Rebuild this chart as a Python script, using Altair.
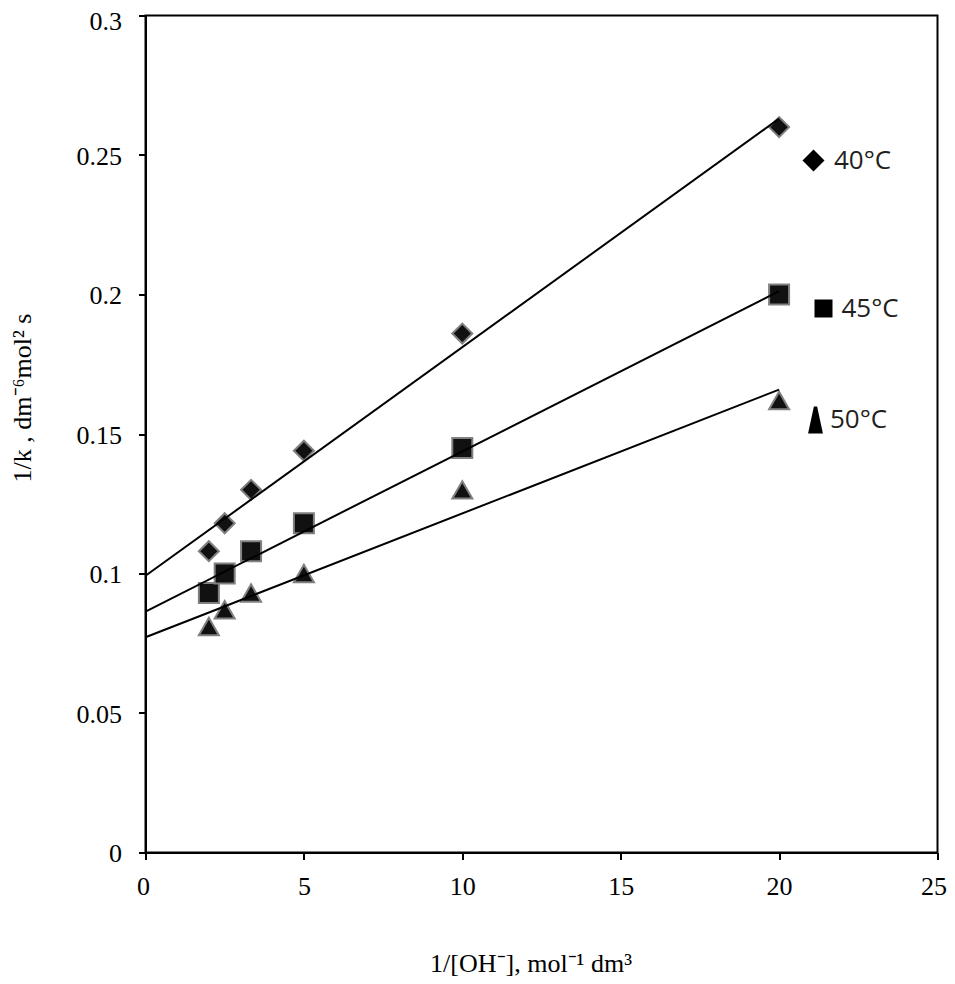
import altair as alt
import pandas as pd

x_vals = [2, 2.5, 3.333, 5, 10, 20]
y40 = [0.108, 0.118, 0.130, 0.144, 0.186, 0.260]
y45 = [0.093, 0.100, 0.108, 0.118, 0.145, 0.200]
y50 = [0.081, 0.087, 0.093, 0.100, 0.130, 0.162]
series_names = ["40°C", "45°C", "50°C"]
shapes = ["diamond", "square", "triangle-up"]
x_ticks = [0, 5, 10, 15, 20, 25]
y_ticks = [0, 0.05, 0.1, 0.15, 0.2, 0.25, 0.3]

# legend symbols (shape, size, placement)
legend_shapes = ["diamond", "square", "M-0.12,-1 L0.12,-1 L0.55,1 L-0.55,1 Z"]
legend_sizes = [484, 324, 729]
legend_pos = [(655, 132, 7.5), (665, 280, 5), (656.5, 391, 1)]

rows = []
for name, ys in zip(series_names, [y40, y45, y50]):
    for xv, yv in zip(x_vals, ys):
        rows.append({"x": xv, "y": yv, "series": name})
df = pd.DataFrame(rows)

serif = "Liberation Serif"

xenc = alt.X(
    "x:Q",
    scale=alt.Scale(domain=[0, 25], nice=False),
    axis=alt.Axis(
        values=x_ticks, format="~g", title="1/[OH⁻], mol⁻¹ dm³",
        titleY=111, titleX=385, titleBaseline="middle",
        labelPadding=14, labelFlush=True, labelFlushOffset=9,
    ),
)
yenc = alt.Y(
    "y:Q",
    scale=alt.Scale(domain=[0, 0.3], nice=False),
    axis=alt.Axis(
        values=y_ticks, format="~g", title="1/k , dm⁻⁶mol² s",
        titleX=-123.5, titleY=382, titleBaseline="middle", titleAngle=-90,
        labelPadding=17,
        labelOffset={"condition": {"test": "datum.value > 0.29", "value": 6}, "value": 1},
        labelFlush=False,
    ),
)

base = alt.Chart(df)

lines = base.transform_regression(
    "x", "y", groupby=["series"], extent=[0, 20]
).mark_line(color="black", strokeWidth=2).encode(
    x=alt.X("x:Q"), y=alt.Y("y:Q"), detail="series:N"
)

points = base.mark_point(
    filled=True, fill="#111111", stroke="#808080", strokeWidth=2, opacity=1, size=400
).encode(
    x=xenc,
    y=yenc,
    shape=alt.Shape(
        "series:N",
        scale=alt.Scale(domain=series_names, range=shapes),
        legend=None,
    ),
)

legend_layers = []
for name, shp, sz, (lx, ly, lo) in zip(series_names, legend_shapes, legend_sizes, legend_pos):
    lyr = base.transform_filter(
        alt.datum.series == name
    ).mark_point(filled=True, fill="black", opacity=0, size=10).encode(
        x="x:Q",
        y="y:Q",
        shape=alt.Shape(
            "series:N",
            scale=alt.Scale(domain=[name], range=[shp]),
            legend=alt.Legend(
                title=None, orient="none", legendX=lx, legendY=ly,
                labelFont="Open Sans", labelFontSize=26, labelColor="#231f20",
                symbolSize=sz, symbolFillColor="#000000", symbolStrokeWidth=0,
                symbolOpacity=1, labelOffset=lo,
            ),
        ),
    )
    legend_layers.append(lyr)

chart = alt.layer(points, lines, *legend_layers).resolve_scale(
    shape="independent"
).properties(
    width=792,
    height=837,
    autosize=alt.AutoSizeParams(type="none"),
    padding={"left": 137.5, "top": 7.5, "right": 9.5, "bottom": 130},
    background="white",
).configure_view(
    stroke="black", strokeWidth=2
).configure_axis(
    grid=False,
    domainColor="black", domainWidth=2,
    tickColor="black", tickWidth=2, tickSize=7,
    labelFont=serif, labelFontSize=26, labelColor="black",
    titleFont=serif, titleFontSize=26, titleFontWeight="normal", titleColor="black",
)

chart.save("out.html", embed_options={"renderer": "svg", "actions": False})
